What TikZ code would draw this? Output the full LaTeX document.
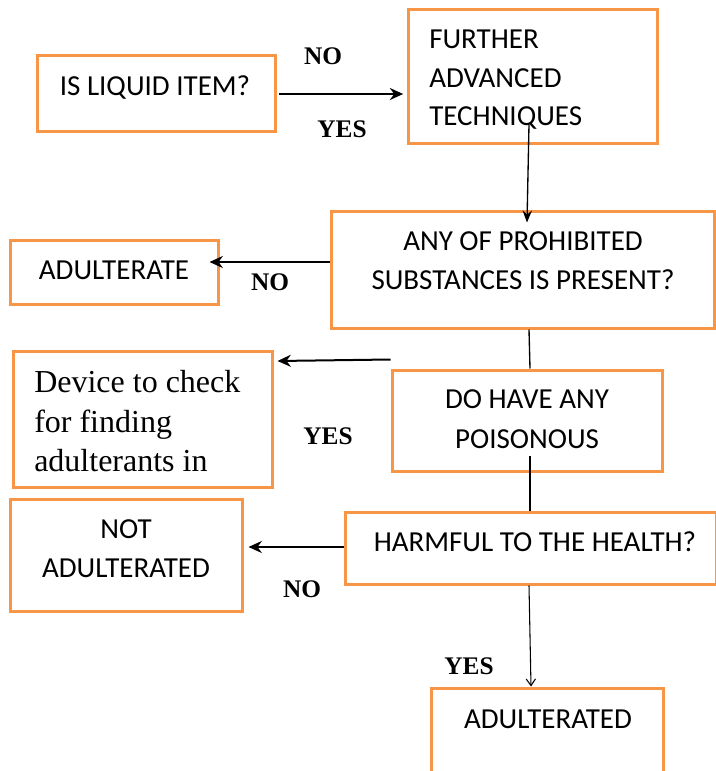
\documentclass[tikz,border=0pt]{standalone}
\usepackage{fontspec}
\setmainfont{Liberation Serif}
\newfontfamily\boxfont{Carlito}
\usetikzlibrary{calc,arrows.meta}
\definecolor{boxorange}{RGB}{247,150,70}
\newcommand\pxu{0.75pt}
\begin{document}
\begin{tikzpicture}[x=0.75pt,y=-0.75pt,
  box/.style={draw=boxorange,line width=2.25pt,inner sep=0pt},
  btxt/.style={font=\boxfont\fontsize{21.75}{26}\selectfont,inner sep=0pt,anchor=base},
  btxtl/.style={btxt,anchor=base west},
  lbl/.style={font=\bfseries\fontsize{19}{23}\selectfont,inner sep=0pt,anchor=base},
  dtxt/.style={font=\fontsize{24}{29}\selectfont,inner sep=0pt,anchor=base west},
  arr/.style={draw=black,line width=1.5pt,-{Stealth[length=10pt,width=9pt]}},
  ln/.style={draw=black,line width=1pt},
  thinarr/.style={draw=black,line width=0.8pt,-{Straight Barb[length=5pt,width=7pt]}}]
\useasboundingbox (0,0) rectangle (716,771);
\clip (0,0) rectangle (716,771);
% boxes
\node[box,minimum width=238*\pxu,minimum height=76*\pxu] (liq) at (156,93) {};
\node[box,minimum width=249*\pxu,minimum height=134*\pxu] (fur) at (532.5,76) {};
\node[box,minimum width=383*\pxu,minimum height=117*\pxu] (any) at (522.5,269.5) {};
\node[box,minimum width=208*\pxu,minimum height=64*\pxu] (adu) at (114,272) {};
\node[box,minimum width=259*\pxu,minimum height=136*\pxu] (dev) at (142.5,419) {};
\node[box,minimum width=270*\pxu,minimum height=101*\pxu] (doh) at (527,420.5) {};
\node[box,minimum width=232*\pxu,minimum height=112*\pxu] (not) at (126,555) {};
\node[box,minimum width=371*\pxu,minimum height=72*\pxu] (har) at (530.5,548) {};
\node[box,minimum width=232*\pxu,minimum height=112*\pxu] (adt) at (547,744) {};
% texts
\node[btxt] (liqT) at (155,95) {IS LIQUID ITEM?};
\node[btxtl] (furT1) at (429,48.5) {FURTHER};
\node[btxtl] (furT2) at (429,87) {ADVANCED};
\node[btxtl] (furT3) at (429,125.5) {TECHNIQUES};
\node[btxt] (anyT1) at (523,250) {ANY OF PROHIBITED};
\node[btxt] (anyT2) at (523,289) {SUBSTANCES IS PRESENT?};
\node[btxt] (aduT) at (114,279) {ADULTERATE};
\node[dtxt] (devT1) at (34,392) {Device to check};
\node[dtxt] (devT2) at (34,432) {for finding};
\node[dtxt] (devT3) at (34,471) {adulterants in};
\node[btxt] (dohT1) at (527,408) {DO HAVE ANY};
\node[btxt] (dohT2) at (527,448) {POISONOUS};
\node[btxt] (notT1) at (126,538) {NOT};
\node[btxt] (notT2) at (126,577) {ADULTERATED};
\node[btxt] (harT) at (535,551) {HARMFUL TO THE HEALTH?};
\node[btxt] (adtT) at (548,728) {ADULTERATED};
% labels
\node[lbl] (no1) at (323,64) {NO};
\node[lbl] (yes1) at (342,137) {YES};
\node[lbl] (no2) at (270,290) {NO};
\node[lbl] (yes2) at (328,444) {YES};
\node[lbl] (no3) at (302,597) {NO};
\node[lbl] (yes3) at (469,674) {YES};
% connectors
\draw[arr,shorten <=1.5pt,shorten >=2.5pt] ($(liq.east)+(0,1)$) -- ($(liq.east -| fur.west)+(0,1)$);
\draw[ln,-{Stealth[length=9pt,width=7pt]}] ($(fur.south)+(-3.5,-20)$) -- ($(any.north)+(4.5,13)$);
\draw[arr] ($(any.west)+(0,-7.5)$) -- ($(adu.east)+(-10,-10)$);
\draw[ln] ($(any.south)+(6.5,0)$) -- ($(doh.north)+(3,0)$);
\draw[arr] ($(doh.north west)+(0,-9)$) -- ($(dev.east)+(4,-58)$);
\draw[ln] ($(doh.south)+(3,-17)$) -- ($(har.north)+(-0.5,0)$);
\draw[arr] ($(har.west)+(0,-1)$) -- ($(not.east)+(5,-8)$);
\draw[thinarr] ($(har.south)+(-1.5,0)$) -- ($(adt.north)+(-16,0)$);
\end{tikzpicture}
\end{document}
